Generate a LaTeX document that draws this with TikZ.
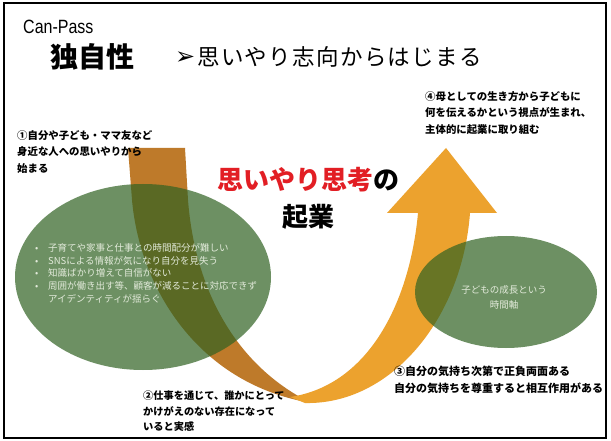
\documentclass[tikz,border=0pt]{standalone}
\usepackage{fontspec}
\setmainfont{Liberation Sans}
\newfontfamily\jp{Noto Sans CJK JP}
\newfontfamily\jpwide[LetterSpace=6]{Noto Sans CJK JP}
\newfontfamily\dv{DejaVu Sans}
\definecolor{bandbrown}{RGB}{190,122,42}
\definecolor{bandorange}{RGB}{236,162,46}
\definecolor{ellgreen}{RGB}{48,98,34}
\definecolor{titlered}{RGB}{226,30,36}
\definecolor{elltext}{RGB}{226,234,218}
\begin{document}
\begin{tikzpicture}[x=1pt,y=-1pt,
  note/.style={font=\jp\bfseries\fontsize{10.4}{16.5}\selectfont, align=left, anchor=north west, inner sep=0pt},
  soft/.style={fill=ellgreen, opacity=0.7}]
\useasboundingbox (0,0) rectangle (611,441);
\fill[white] (0,0) rectangle (611,441);
% band descending (brown)
\fill[bandbrown] (128,148) -- (185,148) -- (188,200)
  .. controls (195,290) and (235,360) .. (300,397)
  -- (312,403)
  .. controls (200,385) and (140,290) .. (132,200) -- cycle;
% band ascending (orange)
\fill[bandorange] (418,213) .. controls (410,300) and (370,385) .. (290,397)
  -- (305,403)
  .. controls (390,405) and (462,320) .. (470,213) -- cycle;
\fill[bandorange] (387,213) -- (446,148) -- (497,213) -- cycle;
% ellipses
\fill[soft] (143,277) ellipse [x radius=128pt, y radius=93pt];
\fill[soft] (506,292) ellipse [x radius=91pt, y radius=56pt];
% frame
\draw[line width=2pt] (4,3) rectangle (606,438);
% header
\node[font=\fontsize{16}{16}\selectfont, anchor=base west, inner sep=0pt] (can) at (23,34) {\scalebox{1}[1.2]{Can-Pass}};
\node[font=\jp\bfseries\fontsize{28}{28}\selectfont, anchor=west, inner sep=0pt] (dok) at (50,57) {独自性};
\node[font=\dv\fontsize{24}{24}\selectfont, anchor=west, inner sep=0pt] (arr) at (175,58) {➢};
\node[font=\jpwide\fontsize{22.5}{22.5}\selectfont, anchor=west, inner sep=0pt] (sub) at (197,57) {思いやり志向からはじまる};
% notes
\node[note] (n1) at (17,130) {①自分や子ども・ママ友など\\身近な人への思いやりから\\始まる};
\node[note] (n4) at (425,91) {④母としての生き方から子どもに\\何を伝えるかという視点が生まれ、\\主体的に起業に取り組む};
\node[note, font=\jp\bfseries\fontsize{10.2}{15.5}\selectfont] (n2) at (143,391) {②仕事を通じて、誰かにとって\\かけがえのない存在になって\\いると実感};
\node[note, font=\jp\bfseries\fontsize{11}{17}\selectfont] (n3) at (394,366) {③自分の気持ち次第で正負両面ある\\自分の気持ちを尊重すると相互作用がある};
% center title
\node[font=\jp\bfseries\fontsize{26}{37}\selectfont, align=center, anchor=north, inner sep=0pt] (ttl) at (308,167) {\textcolor{titlered}{思いやり思考}の\\起業};
% ellipse texts
\node[anchor=north west, inner sep=0pt, font=\jp\fontsize{9.5}{12.8}\selectfont, text=elltext, align=left] (lst) at (48,243)
  {\llap{\makebox[13pt][l]{•}}子育てや家事と仕事との時間配分が難しい\\
   \llap{\makebox[13pt][l]{•}}SNSによる情報が気になり自分を見失う\\
   \llap{\makebox[13pt][l]{•}}知識ばかり増えて自信がない\\
   \llap{\makebox[13pt][l]{•}}周囲が働き出す等、顧客が減ることに対応できず\\
   アイデンティティが揺らぐ};
\node[font=\jp\fontsize{9.5}{15}\selectfont, text=elltext, align=center, inner sep=0pt] (rt) at (504,297) {子どもの成長という\\時間軸};
\end{tikzpicture}
\end{document}
